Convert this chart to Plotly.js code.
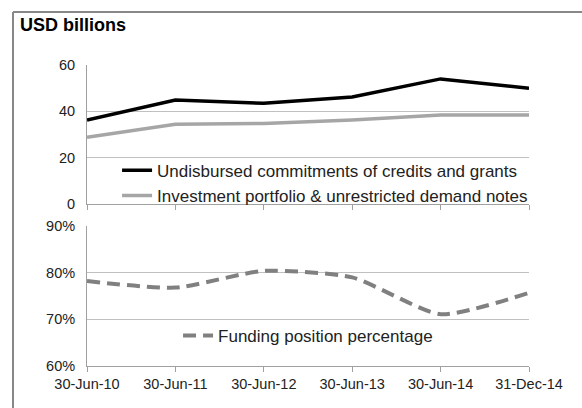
<!DOCTYPE html>
<html>
<head>
<meta charset="utf-8">
<script src="https://cdn.plot.ly/plotly-3.0.1.min.js"></script>
<style>
  body { margin: 0; background: #fff; }
  #chart { width: 582px; height: 408px; }
</style>
</head>
<body>
<div id="chart"></div>
<script>
// Chart data
const dates = ['30-Jun-10', '30-Jun-11', '30-Jun-12', '30-Jun-13', '30-Jun-14', '31-Dec-14'];
const undisbursed = [36.3, 44.9, 43.5, 46.2, 54.0, 50.0];
const investment = [28.8, 34.4, 34.8, 36.3, 38.4, 38.4];
const fundingPct = [0.782, 0.768, 0.804, 0.790, 0.711, 0.757];

const font = 'Liberation Sans, Arial, sans-serif';
const gridColor = '#c0c0c0';
const axisColor = '#a0a0a0';

const traces = [
  {
    x: dates, y: undisbursed, xaxis: 'x', yaxis: 'y',
    type: 'scatter', mode: 'lines',
    name: 'Undisbursed commitments of credits and grants',
    line: { color: '#000000', width: 3.5 },
    legend: 'legend'
  },
  {
    x: dates, y: investment, xaxis: 'x', yaxis: 'y',
    type: 'scatter', mode: 'lines',
    name: 'Investment portfolio & unrestricted demand notes',
    line: { color: '#a6a6a6', width: 3.5 },
    legend: 'legend'
  },
  {
    x: dates, y: fundingPct, xaxis: 'x2', yaxis: 'y2',
    type: 'scatter', mode: 'lines',
    name: 'Funding position percentage',
    line: { color: '#808080', width: 4, dash: '13px,7px', shape: 'spline', smoothing: 0.6 },
    legend: 'legend2'
  }
];

const xBase = {
  type: 'category',
  range: [0, 5],
  showgrid: false,
  showline: true,
  linecolor: axisColor,
  linewidth: 1,
  ticks: 'outside',
  ticklen: 5,
  tickcolor: axisColor,
  tickfont: { family: font, size: 14.5, color: '#222' },
  fixedrange: true
};

const layout = {
  width: 582,
  height: 408,
  margin: { l: 87, r: 53, t: 65, b: 42 },
  paper_bgcolor: '#ffffff',
  plot_bgcolor: '#ffffff',
  showlegend: true,
  title: {
    text: '<b>USD billions</b>',
    font: { family: font, size: 18, color: '#000' },
    xref: 'container', x: 20 / 582, xanchor: 'left',
    yref: 'container', y: 1 - 25 / 408, yanchor: 'middle'
  },
  xaxis: Object.assign({}, xBase, { anchor: 'y', showticklabels: false }),
  xaxis2: Object.assign({}, xBase, { anchor: 'y2', matches: 'x' }),
  yaxis: {
    domain: [0.538, 1],
    range: [0, 60],
    dtick: 20,
    showgrid: true,
    gridcolor: gridColor,
    zeroline: false,
    showline: true,
    linecolor: axisColor,
    tickfont: { family: font, size: 14.5, color: '#222' },
    ticklabelstandoff: 8,
    fixedrange: true
  },
  yaxis2: {
    domain: [0, 0.465],
    range: [0.6, 0.9],
    dtick: 0.1,
    tickformat: '.0%',
    showgrid: true,
    gridcolor: gridColor,
    zeroline: false,
    showline: true,
    linecolor: axisColor,
    tickfont: { family: font, size: 14.5, color: '#222' },
    ticklabelstandoff: 8,
    fixedrange: true
  },
  legend: {
    x: 0.068, y: 0.607, xanchor: 'left', yanchor: 'middle',
    bgcolor: 'rgba(0,0,0,0)',
    font: { family: font, size: 17, color: '#222' },
    tracegroupgap: 0
  },
  legend2: {
    x: 0.206, y: 0.1, xanchor: 'left', yanchor: 'middle',
    bgcolor: 'rgba(0,0,0,0)',
    font: { family: font, size: 17, color: '#222' }
  },
  shapes: [
    // outer frame (top and left edges visible in the crop)
    { type: 'line', xref: 'paper', yref: 'paper', x0: -0.1674, x1: 1.2, y0: 1.1761, y1: 1.1761,
      line: { color: '#888888', width: 2 } },
    { type: 'line', xref: 'paper', yref: 'paper', x0: -0.1674, x1: -0.1674, y0: 1.1761, y1: -0.2,
      line: { color: '#888888', width: 2 } }
  ]
};

Plotly.newPlot('chart', traces, layout, { displayModeBar: false, staticPlot: true });
</script>
</body>
</html>
